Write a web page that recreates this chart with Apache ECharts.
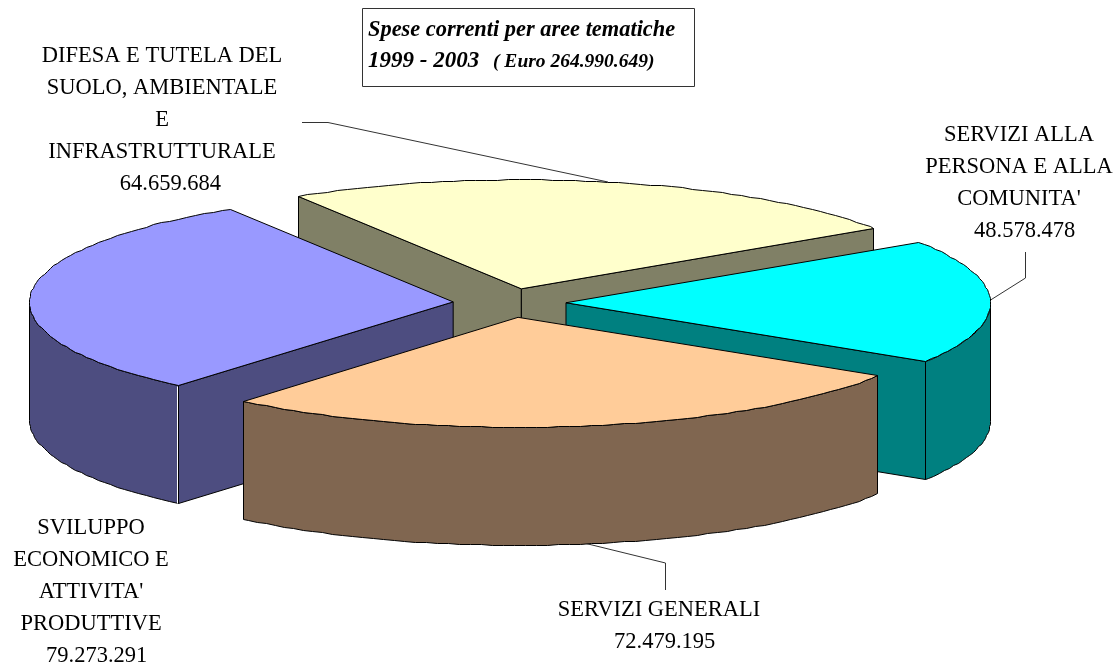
<!DOCTYPE html>
<html>
<head>
<meta charset="utf-8">
<title>Spese correnti per aree tematiche</title>
<script src="https://cdn.jsdelivr.net/npm/echarts@6/dist/echarts.min.js"></script>
<style>
html,body{margin:0;padding:0;background:#fff;}
#main{width:1117px;height:664px;}
</style>
</head>
<body>
<div id="main"></div>
<script>
// dati, in senso orario
var categories = [
    'DIFESA E TUTELA DEL\nSUOLO, AMBIENTALE\nE\nINFRASTRUTTURALE',
    "SERVIZI ALLA\nPERSONA E ALLA\nCOMUNITA'",
    'SERVIZI GENERALI',
    "SVILUPPO\nECONOMICO E\nATTIVITA'\nPRODUTTIVE"
];
var values = [64659684, 48578478, 72479195, 79273291];
var titleLine1 = 'Spese correnti per aree tematiche';
var titleYears = '1999 - 2003';
var titleTotal = '( Euro 264.990.649)';

var topColors = ['#FFFFCC', '#00FFFF', '#FFCC99', '#9999FF'];
var sideColors = ['#808066', '#008080', '#806650', '#4D4D80'];
var drawOrder = [0, 1, 3, 2];          // yellow behind, orange in front
var labelPos = [[162, 40], [1019, 119], [659, 594], [91, 512]];
var numberIndent = ['   ', '  ', '  ', '  '];

var cx = 509.5, cy = 303, rx = 424, ry = 109.5, depth = 118;
var explodeX = 56.5, explodeY = 14.5;
var startAngle = 121.8;
var FONT = '"Liberation Serif","Times New Roman",serif';

var total = values.reduce(function (a, b) { return a + b; }, 0);

function formatValue(v) {
    return String(v).replace(/\B(?=(\d{3})+$)/g, '.');
}
function rad(d) { return d * Math.PI / 180; }

function renderSlice(params, api) {
    var idx = params.dataIndex;
    var val = api.value(0);
    var before = 0;
    for (var i = 0; i < idx; i++) before += values[i];
    var a = startAngle - before / total * 360;
    var b = a - val / total * 360;
    var mid = rad((a + b) / 2);
    var ox = cx + explodeX * Math.cos(mid);
    var oy = cy - explodeY * Math.sin(mid);
    // the original rim is coarse, so snap it to whole pixels
    var rim = function (t, dy) {
        return [Math.round(ox + rx * Math.cos(rad(t))) + 0.5, Math.round(oy - ry * Math.sin(rad(t)) + (dy || 0)) + 0.5];
    };
    var z = drawOrder.indexOf(idx) * 10;
    var children = [];

    function poly(points, fill, z2) {
        children.push({
            type: 'polygon',
            shape: { points: points },
            style: { fill: fill, stroke: '#000', lineWidth: 1, lineJoin: 'round' },
            z2: z2
        });
    }
    function radial(t) {
        var p = rim(t), q = rim(t, depth);
        poly([[ox, oy], p, q, [ox, oy + depth]], sideColors[idx], z + 1);
    }

    // radial walls facing the viewer
    if (Math.cos(rad(a)) < 0) radial(a);
    if (Math.cos(rad(b)) > 0) radial(b);

    // outer wall, front half only
    var from = Math.min(a, 0), to = Math.max(b, -180);
    if (from > to) {
        var wall = [], wallBack = [];
        for (var t = from; t > to; t -= 1.5) {
            wall.push(rim(t));
            wallBack.unshift(rim(t, depth));
        }
        wall.push(rim(to));
        wallBack.unshift(rim(to, depth));
        poly(wall.concat(wallBack), sideColors[idx], z + 2);
    }

    // top face
    var top = [[ox, oy]];
    for (var s = a; s > b; s -= 1.5) top.push(rim(s));
    top.push(rim(b));
    poly(top, topColors[idx], z + 3);

    // white seam on the blue slice front corner
    if (idx === 3) {
        var c0 = rim(a), c1 = rim(a, depth);
        children.push({
            type: 'line',
            shape: { x1: c0[0] - 1, y1: c0[1] + 1, x2: c1[0] - 1, y2: c1[1] },
            style: { stroke: '#fff', lineWidth: 1 },
            z2: z + 4
        });
    }

    // label
    var p0 = labelPos[idx];
    children.push({
        type: 'text',
        style: {
            x: p0[0], y: p0[1],
            text: categories[idx] + '\n' + numberIndent[idx] + formatValue(val),
            font: '22.5px ' + FONT,
            fill: '#000',
            align: 'center',
            verticalAlign: 'top',
            lineHeight: 32
        },
        z2: 100
    });
    return { type: 'group', children: children };
}

var chart = echarts.init(document.getElementById('main'), null, { renderer: 'canvas' });
chart.setOption({
    backgroundColor: '#fff',
    animation: false,
    graphic: [
        { type: 'rect', shape: { x: 362.5, y: 8.5, width: 332, height: 78 }, style: { fill: '#fff', stroke: '#333', lineWidth: 1 } },
        { type: 'text', style: { x: 368, y: 14, text: titleLine1, font: 'italic bold 22.4px ' + FONT, fill: '#000', lineHeight: 32 } },
        { type: 'text', style: { x: 368, y: 45, text: titleYears, font: 'italic bold 23px ' + FONT, fill: '#000', lineHeight: 32 } },
        { type: 'text', style: { x: 493, y: 46, text: titleTotal, font: 'italic bold 19.5px ' + FONT, fill: '#000', lineHeight: 32 } },
        { type: 'polyline', shape: { points: [[302, 122.5], [328, 122.5], [608, 182]] }, style: { fill: null, stroke: '#333', lineWidth: 1 } },
        { type: 'polyline', shape: { points: [[1025.5, 252], [1025.5, 278], [989, 301]] }, style: { fill: null, stroke: '#333', lineWidth: 1 } },
        { type: 'polyline', shape: { points: [[584, 543], [665.5, 563], [665.5, 590]] }, style: { fill: null, stroke: '#333', lineWidth: 1 } }
    ],
    series: [{
        type: 'custom',
        coordinateSystem: 'none',
        renderItem: renderSlice,
        data: values.map(function (v) { return [v]; }),
        silent: true
    }]
});
</script>
</body>
</html>
